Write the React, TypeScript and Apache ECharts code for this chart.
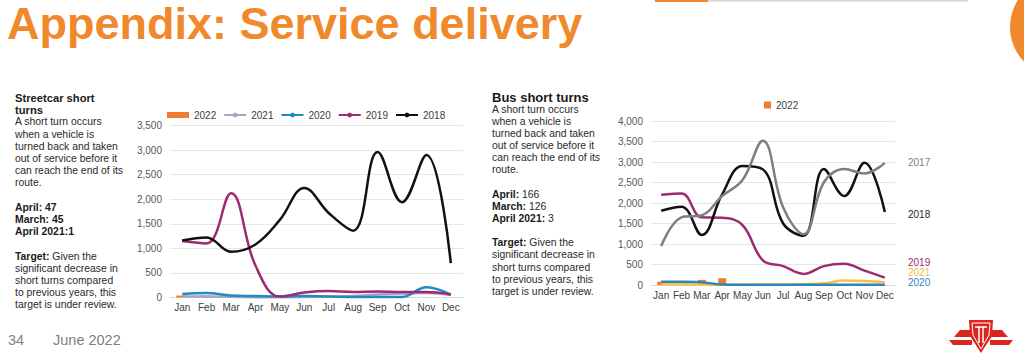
import React, { useEffect, useRef } from 'react';
import * as echarts from 'echarts';

const months = ['Jan', 'Feb', 'Mar', 'Apr', 'May', 'Jun', 'Jul', 'Aug', 'Sep', 'Oct', 'Nov', 'Dec'];

// Streetcar short turns
const streetcar2022 = [40, 40, 45, 47];
const streetcar2021 = [20, 20, 15, 1, 5, 10, 20, 30, 60, 80, 90, 50];
const streetcar2020 = [70, 90, 40, 30, 20, 30, 20, 10, 10, 10, 210, 60];
const streetcar2019 = [1150, 1100, 2120, 650, 20, 100, 130, 110, 120, 110, 110, 60];
const streetcar2018 = [1160, 1220, 930, 1080, 1580, 2230, 1720, 1360, 2960, 1940, 2900, 700];

// Bus short turns
const bus2022 = [80, 70, 126, 166];
const bus2017 = [950, 1650, 1700, 2170, 2560, 3520, 1890, 1240, 2500, 2830, 2720, 2980];
const bus2018 = [1810, 1910, 1220, 2210, 2900, 2820, 1500, 1200, 2830, 2170, 2980, 1780];
const bus2019 = [2200, 2230, 1650, 1640, 1460, 600, 460, 270, 460, 520, 350, 180];
const bus2021 = [20, 20, 10, 3, 5, 10, 10, 20, 40, 110, 100, 70];
const bus2020 = [80, 80, 70, 10, 5, 5, 5, 5, 5, 5, 5, 5];

const leftLegend = ['2022', '2021', '2020', '2019', '2018'];
const busSideLabels = ['2017', '2018', '2019', '2021', '2020'];

const C = {
  orange: '#ED7D31',
  title: '#F0882C',
  lav: '#A9A3C4',
  blue: '#1E8BC3',
  mag: '#9E2A72',
  black: '#111111',
  gray: '#7F7F7F',
  yellow: '#F5C342',
};

type Seg = { t: string; s: 'h' | 'b' | 'n' };
const leftText: Seg[][] = [
  [{ t: 'Streetcar short', s: 'h' }],
  [{ t: 'turns', s: 'h' }],
  [{ t: 'A short turn occurs', s: 'n' }],
  [{ t: 'when a vehicle is', s: 'n' }],
  [{ t: 'turned back and taken', s: 'n' }],
  [{ t: 'out of service before it', s: 'n' }],
  [{ t: 'can reach the end of its', s: 'n' }],
  [{ t: 'route.', s: 'n' }],
  [],
  [{ t: 'April: 47', s: 'b' }],
  [{ t: 'March: 45', s: 'b' }],
  [{ t: 'April 2021:1', s: 'b' }],
  [],
  [{ t: 'Target:', s: 'b' }, { t: ' Given the', s: 'n' }],
  [{ t: 'significant decrease in', s: 'n' }],
  [{ t: 'short turns compared', s: 'n' }],
  [{ t: 'to previous years, this', s: 'n' }],
  [{ t: 'target is under review.', s: 'n' }],
];
const rightText: Seg[][] = [
  [{ t: 'Bus short turns', s: 'h' }],
  [{ t: 'A short turn occurs', s: 'n' }],
  [{ t: 'when a vehicle is', s: 'n' }],
  [{ t: 'turned back and taken', s: 'n' }],
  [{ t: 'out of service before it', s: 'n' }],
  [{ t: 'can reach the end of its', s: 'n' }],
  [{ t: 'route.', s: 'n' }],
  [],
  [{ t: 'April:', s: 'b' }, { t: ' 166', s: 'n' }],
  [{ t: 'March:', s: 'b' }, { t: ' 126', s: 'n' }],
  [{ t: 'April 2021:', s: 'b' }, { t: ' 3', s: 'n' }],
  [],
  [{ t: 'Target:', s: 'b' }, { t: ' Given the', s: 'n' }],
  [{ t: 'significant decrease in', s: 'n' }],
  [{ t: 'short turns compared', s: 'n' }],
  [{ t: 'to previous years, this', s: 'n' }],
  [{ t: 'target is under review.', s: 'n' }],
];

const FONT = 'Liberation Sans, Arial, sans-serif';

function textBlock(lines: Seg[][], x: number, y0: number, lh: number, headSize: number, bodySize: number) {
  const out: any[] = [];
  lines.forEach((segs, i) => {
    if (!segs.length) return;
    out.push({
      type: 'text',
      x,
      y: y0 + i * lh,
      style: {
        text: segs.map((s) => `{${s.s}|${s.t}}`).join(''),
        verticalAlign: 'middle',
        align: 'left',
        rich: {
          h: { fontFamily: FONT, fontSize: headSize, fontWeight: 'bold', fill: '#1a1a1a' },
          b: { fontFamily: FONT, fontSize: bodySize, fontWeight: 'bold', fill: '#1a1a1a' },
          n: { fontFamily: FONT, fontSize: bodySize, fill: '#2a2a2a' },
        },
      },
    });
  });
  return out;
}

const fmt = (v: number) => v.toLocaleString('en-US');

export default function App() {
  const ref = useRef<HTMLDivElement>(null);
  useEffect(() => {
    if (!ref.current) return;
    const chart = echarts.init(ref.current, undefined, { renderer: 'svg', width: 1024, height: 356 });

    const xAxisBase = (gridIndex: number) => ({
      type: 'category',
      gridIndex,
      data: months,
      boundaryGap: true,
      axisLine: { show: true, lineStyle: { color: '#D9D9D9', width: 1 } },
      axisTick: { show: false },
      axisLabel: { interval: 0, margin: 5, fontFamily: FONT, fontSize: 10, color: '#404040' },
    });
    const yAxisBase = (gridIndex: number, max: number) => ({
      type: 'value',
      gridIndex,
      min: 0,
      max,
      interval: 500,
      axisLine: { show: false },
      axisTick: { show: false },
      splitLine: { lineStyle: { color: '#E6E6E6', width: 1 } },
      axisLabel: { margin: 8, fontFamily: FONT, fontSize: 10, color: '#595959', formatter: fmt },
    });
    const line = (name: string, data: number[], color: string, idx: number, width = 2.5) => ({
      type: 'line',
      name,
      data,
      xAxisIndex: idx,
      yAxisIndex: idx,
      smooth: 0.4,
      symbol: 'none',
      showSymbol: false,
      lineStyle: { color, width },
      itemStyle: { color },
      emphasis: { disabled: true },
    });

    const sideColors: Record<string, string> = {
      '2017': C.gray,
      '2018': '#262626',
      '2019': C.mag,
      '2021': '#F0BE45',
      '2020': '#2E86C1',
    };
    const sideY = [162, 214, 262, 272, 282];

    const cx = 981;
    const red = '#DA251D';
    const mirror = (pts: number[][]) => pts.map(([x, y]) => [2 * cx - x, y]);
    const wingA = [[972, 330], [960, 330], [954, 337], [972, 337]];
    const wingB = [[972, 340], [949, 340], [953, 345], [972, 345]];

    const graphic: any[] = [
      {
        type: 'text',
        x: 7,
        y: 23,
        style: {
          text: 'Appendix: Service delivery',
          fontFamily: FONT,
          fontSize: 45,
          fontWeight: 'bold',
          fill: C.title,
          verticalAlign: 'middle',
        },
      },
      { type: 'rect', shape: { x: 655, y: 0, width: 313, height: 1.5 }, style: { fill: '#D6D6D6' } },
      { type: 'rect', shape: { x: 655, y: 0, width: 53, height: 2 }, style: { fill: C.title } },
      { type: 'circle', shape: { cx: 1060, cy: 27, r: 50 }, style: { fill: C.title } },
      ...textBlock(leftText, 15, 97.5, 12.2, 11.2, 10.4),
      ...textBlock(rightText, 492, 97, 12.15, 13, 10.4),
      ...busSideLabels.map((t, i) => ({
        type: 'text',
        x: 908,
        y: sideY[i],
        style: { text: t, fontFamily: FONT, fontSize: 10, fill: sideColors[t], verticalAlign: 'middle' },
      })),
      {
        type: 'text',
        x: 8,
        y: 340,
        style: { text: '34', fontFamily: FONT, fontSize: 14.5, fill: '#7F7F7F', verticalAlign: 'middle' },
      },
      {
        type: 'text',
        x: 53,
        y: 340,
        style: { text: 'June 2022', fontFamily: FONT, fontSize: 14.5, fill: '#7F7F7F', verticalAlign: 'middle' },
      },
      { type: 'polygon', shape: { points: wingA }, style: { fill: red } },
      { type: 'polygon', shape: { points: wingB }, style: { fill: red } },
      { type: 'polygon', shape: { points: mirror(wingA) }, style: { fill: red } },
      { type: 'polygon', shape: { points: mirror(wingB) }, style: { fill: red } },
      {
        type: 'polygon',
        shape: { points: [[969, 320], [993, 320], [992, 336], [981, 353], [970, 336]] },
        style: { fill: red },
      },
      {
        type: 'polyline',
        shape: { points: [[972, 323], [990, 323], [989, 335], [981, 349], [973, 335], [972, 323]] },
        style: { stroke: '#fff', lineWidth: 1, fill: 'none' },
      },
      { type: 'line', shape: { x1: 975, y1: 327, x2: 987, y2: 327 }, style: { stroke: '#fff', lineWidth: 1.5 } },
      { type: 'line', shape: { x1: 979, y1: 327, x2: 979, y2: 343 }, style: { stroke: '#fff', lineWidth: 1.5 } },
      { type: 'line', shape: { x1: 983, y1: 327, x2: 983, y2: 343 }, style: { stroke: '#fff', lineWidth: 1.5 } },
    ];

    const option: any = {
      animation: false,
      backgroundColor: '#ffffff',
      textStyle: { fontFamily: FONT },
      grid: [
        { left: 170, right: 561, top: 125.5, bottom: 58.5 },
        { left: 651, right: 129, top: 121, bottom: 71 },
      ],
      xAxis: [xAxisBase(0), xAxisBase(1)],
      yAxis: [yAxisBase(0, 3500), yAxisBase(1, 4000)],
      legend: [
        {
          left: 162,
          top: 105,
          itemWidth: 22,
          itemHeight: 6,
          itemGap: 7,
          selectedMode: false,
          textStyle: { fontFamily: FONT, fontSize: 10, color: '#404040' },
          data: leftLegend.map((n) => (n === '2022' ? { name: n, icon: 'rect' } : { name: n })),
        },
        {
          left: 759,
          top: 95,
          itemWidth: 7,
          itemHeight: 7,
          selectedMode: false,
          textStyle: { fontFamily: FONT, fontSize: 10, color: '#404040' },
          data: [{ name: '2022', icon: 'rect' }],
        },
      ],
      series: [
        {
          type: 'bar',
          name: '2022',
          data: streetcar2022,
          xAxisIndex: 0,
          yAxisIndex: 0,
          barWidth: 12,
          itemStyle: { color: C.orange },
        },
        line('2021', streetcar2021, C.lav, 0),
        line('2020', streetcar2020, C.blue, 0),
        line('2019', streetcar2019, C.mag, 0),
        line('2018', streetcar2018, C.black, 0),
        {
          type: 'bar',
          name: '2022',
          data: bus2022,
          xAxisIndex: 1,
          yAxisIndex: 1,
          barWidth: 8,
          itemStyle: { color: C.orange },
        },
        line('2021', bus2021, C.yellow, 1),
        line('2020', bus2020, '#2E86C1', 1),
        line('2019', bus2019, C.mag, 1),
        line('2018', bus2018, C.black, 1),
        line('2017', bus2017, C.gray, 1),
      ],
      graphic,
    };
    chart.setOption(option);
    return () => chart.dispose();
  }, []);

  return (
    <div
      ref={ref}
      style={{ position: 'fixed', left: 0, top: 0, width: 1024, height: 356, background: '#fff' }}
    />
  );
}
